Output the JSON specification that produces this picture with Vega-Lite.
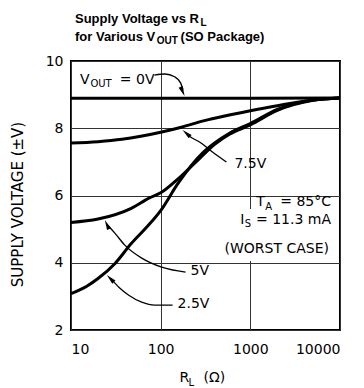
{
  "$schema": "https://vega.github.io/schema/vega-lite/v6.json",
  "width": 269,
  "height": 269,
  "autosize": {"type": "none"},
  "padding": {"left": 71, "top": 61, "right": 24, "bottom": 58},
  "background": "white",
  "config": {
    "view": {"stroke": "black", "strokeWidth": 2},
    "font": "DejaVu Sans"
  },
  "encoding": {
    "x": {
      "field": "R", "type": "quantitative",
      "scale": {"type": "log", "domain": [10, 10000], "nice": false},
      "axis": {
        "values": [10, 100, 1000, 10000], "format": "d", "title": null,
        "grid": true, "gridColor": "#333333", "gridWidth": 1,
        "ticks": false, "domain": false,
        "labelFont": "DejaVu Sans", "labelFontSize": 14, "labelColor": "black",
        "labelPadding": 12
      }
    },
    "y": {
      "field": "V", "type": "quantitative",
      "scale": {"domain": [2, 10], "nice": false, "zero": false},
      "axis": {
        "values": [2, 4, 6, 8, 10], "title": "SUPPLY VOLTAGE  (±V)",
        "grid": true, "gridColor": "#333333", "gridWidth": 1,
        "ticks": false, "domain": false,
        "labelFont": "DejaVu Sans", "labelFontSize": 14, "labelColor": "black",
        "labelPadding": 8,
        "titleFont": "DejaVu Sans", "titleFontSize": 15, "titleFontWeight": "normal",
        "titleColor": "black", "titlePadding": 20, "titleY": 143
      }
    }
  },
  "layer": [
    {
      "data": {"values": [{"R": 476, "R2": 9700, "V": 4.05, "V2": 5.6}]},
      "mark": {"type": "rect", "fill": "white", "stroke": null},
      "encoding": {"x2": {"field": "R2"}, "y2": {"field": "V2"}}
    },
    {
      "data": {"values": [
        {"s": "0V", "R": 10, "V": 8.89}, {"s": "0V", "R": 100, "V": 8.89}, {"s": "0V", "R": 1000, "V": 8.89}, {"s": "0V", "R": 10000, "V": 8.9},
        {"s": "7.5V", "R": 10, "V": 7.56}, {"s": "7.5V", "R": 20, "V": 7.6}, {"s": "7.5V", "R": 37, "V": 7.67}, {"s": "7.5V", "R": 60, "V": 7.76},
        {"s": "7.5V", "R": 100, "V": 7.88}, {"s": "7.5V", "R": 170, "V": 8.03}, {"s": "7.5V", "R": 300, "V": 8.22}, {"s": "7.5V", "R": 550, "V": 8.38},
        {"s": "7.5V", "R": 1000, "V": 8.52}, {"s": "7.5V", "R": 2000, "V": 8.67}, {"s": "7.5V", "R": 5000, "V": 8.84}, {"s": "7.5V", "R": 10000, "V": 8.9},
        {"s": "5V", "R": 10, "V": 5.2}, {"s": "5V", "R": 20, "V": 5.3}, {"s": "5V", "R": 47, "V": 5.62}, {"s": "5V", "R": 75, "V": 5.93},
        {"s": "5V", "R": 100, "V": 6.08}, {"s": "5V", "R": 160, "V": 6.52}, {"s": "5V", "R": 260, "V": 7.05}, {"s": "5V", "R": 400, "V": 7.52},
        {"s": "5V", "R": 585, "V": 7.82}, {"s": "5V", "R": 1000, "V": 8.1}, {"s": "5V", "R": 2000, "V": 8.53}, {"s": "5V", "R": 5000, "V": 8.83}, {"s": "5V", "R": 10000, "V": 8.9},
        {"s": "2.5V", "R": 10, "V": 3.08}, {"s": "2.5V", "R": 15, "V": 3.3}, {"s": "2.5V", "R": 20, "V": 3.53}, {"s": "2.5V", "R": 31, "V": 3.98},
        {"s": "2.5V", "R": 47, "V": 4.57}, {"s": "2.5V", "R": 70, "V": 5.06}, {"s": "2.5V", "R": 100, "V": 5.55}, {"s": "2.5V", "R": 156, "V": 6.36},
        {"s": "2.5V", "R": 293, "V": 7.26}, {"s": "2.5V", "R": 400, "V": 7.56}, {"s": "2.5V", "R": 585, "V": 7.85}, {"s": "2.5V", "R": 1000, "V": 8.14},
        {"s": "2.5V", "R": 2000, "V": 8.56}, {"s": "2.5V", "R": 5000, "V": 8.84}, {"s": "2.5V", "R": 10000, "V": 8.9}
      ]},
      "mark": {"type": "line", "color": "black", "strokeWidth": 3, "interpolate": "monotone"},
      "encoding": {"detail": {"field": "s"}}
    },
    {
      "data": {"values": [
        {"a": "0V", "o": 1, "R": 85.5, "V": 9.583}, {"a": "0V", "o": 2, "R": 112, "V": 9.613}, {"a": "0V", "o": 3, "R": 143.0, "V": 9.53},
        {"a": "0V", "o": 4, "R": 166.8, "V": 9.35}, {"a": "0V", "o": 5, "R": 177.0, "V": 9.15},
        {"a": "7.5V", "o": 1, "R": 541.2, "V": 6.994}, {"a": "7.5V", "o": 2, "R": 378.3, "V": 7.292}, {"a": "7.5V", "o": 3, "R": 271.2, "V": 7.589},
        {"a": "7.5V", "o": 4, "R": 215.4, "V": 7.738}, {"a": "7.5V", "o": 5, "R": 196, "V": 7.82},
        {"a": "5V", "o": 1, "R": 189.6, "V": 3.72}, {"a": "5V", "o": 2, "R": 102.6, "V": 3.869}, {"a": "5V", "o": 3, "R": 61.5, "V": 4.137},
        {"a": "5V", "o": 4, "R": 39.81, "V": 4.524}, {"a": "5V", "o": 5, "R": 30.83, "V": 4.881}, {"a": "5V", "o": 6, "R": 26.0, "V": 5.1},
        {"a": "2.5V", "o": 1, "R": 135.9, "V": 2.738}, {"a": "2.5V", "o": 2, "R": 85.8, "V": 2.738}, {"a": "2.5V", "o": 3, "R": 61.5, "V": 2.827},
        {"a": "2.5V", "o": 4, "R": 44.1, "V": 3.036}, {"a": "2.5V", "o": 5, "R": 34.15, "V": 3.274}, {"a": "2.5V", "o": 6, "R": 28.5, "V": 3.49}
      ]},
      "mark": {"type": "line", "color": "black", "strokeWidth": 1.3, "interpolate": "monotone"},
      "encoding": {"detail": {"field": "a"}, "order": {"field": "o"}}
    },
    {
      "data": {"values": [{"R": 175.6, "V": 9.095}]},
      "mark": {"type": "point", "shape": "M0,-1L0.45,1L-0.45,1Z", "filled": true, "color": "black", "opacity": 1, "size": 100, "angle": 157}
    },
    {
      "data": {"values": [{"R": 193.5, "V": 7.848}]},
      "mark": {"type": "point", "shape": "M0,-1L0.45,1L-0.45,1Z", "filled": true, "color": "black", "opacity": 1, "size": 100, "angle": 311}
    },
    {
      "data": {"values": [{"R": 25.18, "V": 5.134}]},
      "mark": {"type": "point", "shape": "M0,-1L0.45,1L-0.45,1Z", "filled": true, "color": "black", "opacity": 1, "size": 100, "angle": 335}
    },
    {
      "data": {"values": [{"R": 27.47, "V": 3.527}]},
      "mark": {"type": "point", "shape": "M0,-1L0.45,1L-0.45,1Z", "filled": true, "color": "black", "opacity": 1, "size": 100, "angle": 315}
    },
    {
      "data": {"values": [
        {"t": "V", "R": 12.59, "V": 9.33}, {"t": "= 0V", "R": 35.04, "V": 9.33},
        {"t": "7.5V", "R": 664, "V": 6.815}, {"t": "5V", "R": 215.4, "V": 3.631}, {"t": "2.5V", "R": 154.5, "V": 2.649},
        {"t": "T", "R": 1166, "V": 5.685}, {"t": "I", "R": 774.3, "V": 5.164},
        {"t": "R", "R": 162.6, "V": 0.446}, {"t": "(Ω)", "R": 300.6, "V": 0.446}
      ]},
      "mark": {"type": "text", "align": "left", "baseline": "alphabetic", "font": "DejaVu Sans", "fontSize": 14, "color": "black"},
      "encoding": {"text": {"field": "t"}}
    },
    {
      "data": {"values": [
        {"t": "= 85°C", "R": 7943, "V": 5.685}, {"t": "= 11.3 mA", "R": 7943, "V": 5.164}, {"t": "(WORST CASE)", "R": 7549, "V": 4.286}
      ]},
      "mark": {"type": "text", "align": "right", "baseline": "alphabetic", "font": "DejaVu Sans", "fontSize": 14, "color": "black"},
      "encoding": {"text": {"field": "t"}}
    },
    {
      "data": {"values": [
        {"t": "OUT", "R": 16.47, "V": 9.241}, {"t": "A", "R": 1468, "V": 5.58}, {"t": "S", "R": 868.6, "V": 5.074}, {"t": "L", "R": 204.6, "V": 0.327}
      ]},
      "mark": {"type": "text", "align": "left", "baseline": "alphabetic", "font": "DejaVu Sans", "fontSize": 10, "color": "black"},
      "encoding": {"text": {"field": "t"}}
    },
    {
      "data": {"values": [
        {"t": "Supply Voltage vs R", "R": 11.08, "V": 11.131}, {"t": "for Various V", "R": 11.08, "V": 10.58}, {"t": "(SO Package)", "R": 166.8, "V": 10.58}
      ]},
      "mark": {"type": "text", "align": "left", "baseline": "alphabetic", "font": "Liberation Sans", "fontWeight": "bold", "fontSize": 13, "color": "black"},
      "encoding": {"text": {"field": "t"}}
    },
    {
      "data": {"values": [
        {"t": "L", "R": 278, "V": 11.042}, {"t": "OUT", "R": 90.3, "V": 10.491}
      ]},
      "mark": {"type": "text", "align": "left", "baseline": "alphabetic", "font": "Liberation Sans", "fontWeight": "bold", "fontSize": 10, "color": "black"},
      "encoding": {"text": {"field": "t"}}
    }
  ]
}
